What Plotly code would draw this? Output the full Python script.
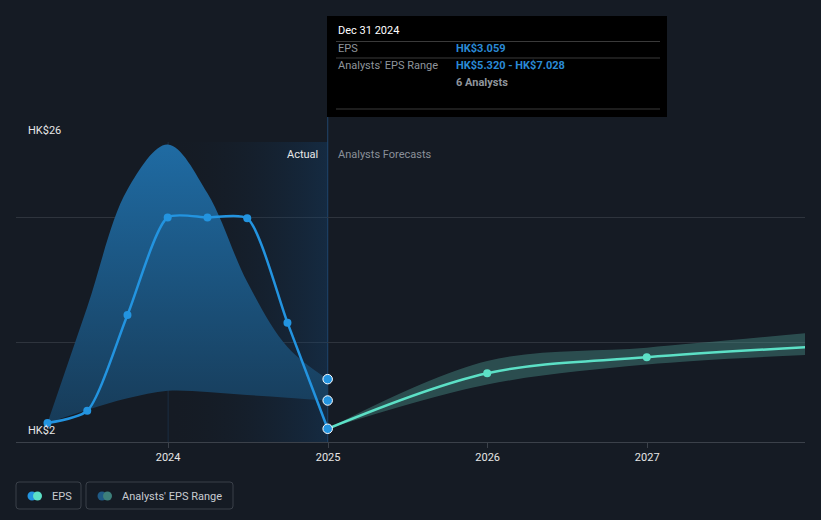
import plotly.graph_objects as go
import pandas as pd

# ---------------- data ----------------
actual_dates = ['2023-03-31', '2023-06-30', '2023-09-30', '2023-12-31',
                '2024-03-31', '2024-06-30', '2024-09-30', '2024-12-31']
eps_actual = [3.52, 4.5, 12.16, 19.97, 19.96, 19.9, 11.55, 3.059]
past_range_low = [3.52, 4.56, 5.5, 6.1, 6.0, 5.76, 5.55, 5.32]
past_range_high = [3.52, 12.8, 22.2, 25.8, 21.9, 14.8, 9.6, 7.028]

forecast_dates = ['2024-12-31', '2025-12-31', '2026-12-31', '2027-12-31']
eps_forecast = [3.059, 7.5, 8.78, 9.58]
fc_range_low = [3.059, 6.6, 8.2, 8.96]
fc_range_high = [3.059, 8.48, 9.55, 10.7]

tick_vals = ['2024-01-01', '2025-01-01', '2026-01-01', '2027-01-01']
tick_text = ['2024', '2025', '2026', '2027']
y_grid = [2, 10, 20, 26]
y_min, y_max = 2, 26
x_range = ['2023-01-18', '2027-12-28']

# ---------------- styling ----------------
BG = '#151b24'
BLUE = '#2394e0'
TEAL = '#5ce0c6'
FONT = 'Roboto'
W, H = 821, 520
ML, MR, MT, MB = 16, 16, 142, 78
PW, PH = W - ML - MR, H - MT - MB


def px(x):
    return (x - ML) / PW


def py(y):
    return (H - MB - y) / PH


fig = go.Figure()

# "Actual" region horizontal gradient shading
shade_start = tick_vals[0]
shade_end = actual_dates[-1]
fig.add_trace(go.Scatter(x=[shade_start, shade_end, shade_end, shade_start, shade_start],
                         y=[y_min, y_min, y_max, y_max, y_min], mode='lines',
                         line=dict(width=0), fill='toself',
                         fillgradient=dict(type='horizontal',
                                           colorscale=[[0, 'rgba(21,27,36,0)'],
                                                       [1, 'rgba(20,70,118,0.36)']]),
                         hoverinfo='skip', showlegend=False))

# past analysts' range band (blue, gradient)
fig.add_trace(go.Scatter(x=actual_dates, y=past_range_low, mode='lines',
                         line=dict(width=0, shape='spline', smoothing=1.0), hoverinfo='skip',
                         showlegend=False))
fig.add_trace(go.Scatter(x=actual_dates, y=past_range_high, mode='lines',
                         line=dict(width=0, shape='spline', smoothing=1.0), fill='tonexty',
                         fillgradient=dict(type='vertical',
                                           colorscale=[[0, '#173b58'], [1, '#1f6ba3']]),
                         hoverinfo='skip', showlegend=False))

# forecast analysts' range band (teal)
fig.add_trace(go.Scatter(x=forecast_dates, y=fc_range_low, mode='lines',
                         line=dict(width=0, shape='spline'), hoverinfo='skip',
                         showlegend=False))
fig.add_trace(go.Scatter(x=forecast_dates, y=fc_range_high, mode='lines',
                         line=dict(width=0, shape='spline'), fill='tonexty',
                         fillcolor='rgba(72,140,132,0.45)',
                         hoverinfo='skip', showlegend=False))

# EPS actual
fig.add_trace(go.Scatter(x=actual_dates, y=eps_actual,
                         mode='lines', line=dict(color=BLUE, width=2.5, shape='spline', smoothing=0.65),
                         showlegend=False))
fig.add_trace(go.Scatter(x=actual_dates[:-1], y=eps_actual[:-1], mode='markers',
                         marker=dict(color=BLUE, size=8), showlegend=False))

# EPS forecast
fig.add_trace(go.Scatter(x=forecast_dates, y=eps_forecast, mode='lines',
                         line=dict(color=TEAL, width=2.5, shape='spline'),
                         showlegend=False))
fig.add_trace(go.Scatter(x=forecast_dates[1:], y=eps_forecast[1:], mode='markers',
                         marker=dict(color=TEAL, size=8), showlegend=False))

# hover markers at Dec 31 2024
fig.add_trace(go.Scatter(x=[actual_dates[-1]] * 3,
                         y=[eps_actual[-1], past_range_low[-1], past_range_high[-1]],
                         mode='markers',
                         marker=dict(color=BLUE, size=9.5, line=dict(color='white', width=1)),
                         showlegend=False, cliponaxis=False))

shapes = []
shapes.append(dict(type='line', xref='x', yref='y', x0=shade_start, x1=shade_start, y0=y_min, y1=y_max,
                   line=dict(color='rgba(40,90,140,0.3)', width=1), layer='below'))
# vertical "now" line
shapes.append(dict(type='line', xref='x', yref='paper', x0=shade_end, x1=shade_end, y0=0, y1=py(117),
                   line=dict(color='#1f3f60', width=1.2), layer='below'))

# tooltip box
shapes.append(dict(type='rect', xref='paper', yref='paper', x0=px(327), x1=px(667),
                   y0=py(117), y1=py(16), fillcolor='#000000', line=dict(width=0)))
for yy in [41.5, 58, 109]:
    shapes.append(dict(type='line', xref='paper', yref='paper', x0=px(336), x1=px(660),
                       y0=py(yy), y1=py(yy), line=dict(color='#3a3a3a', width=1)))


def rounded_box(x0, y0, x1, y1, r=3):
    X0, X1 = px(x0), px(x1)
    Y0, Y1 = py(y1), py(y0)
    rx, ry = r / PW, r / PH
    return (f'M {X0 + rx},{Y0} L {X1 - rx},{Y0} Q {X1},{Y0} {X1},{Y0 + ry} '
            f'L {X1},{Y1 - ry} Q {X1},{Y1} {X1 - rx},{Y1} L {X0 + rx},{Y1} '
            f'Q {X0},{Y1} {X0},{Y1 - ry} L {X0},{Y0 + ry} Q {X0},{Y0} {X0 + rx},{Y0} Z')


# legend boxes
for (x0, x1) in [(16, 81), (86, 233)]:
    shapes.append(dict(type='path', xref='paper', yref='paper', path=rounded_box(x0, 482, x1, 509),
                       line=dict(color='#3a4049', width=1), fillcolor='rgba(0,0,0,0)'))


def circle(cx, cy, r, color):
    return dict(type='circle', xref='paper', yref='paper', x0=px(cx - r), x1=px(cx + r),
                y0=py(cy + r), y1=py(cy - r), fillcolor=color, line=dict(width=0))


shapes += [circle(32, 496, 4.5, BLUE), circle(37.5, 496, 4.5, TEAL),
           circle(102, 496, 4.5, '#1f5a85'), circle(107.5, 496, 4.5, '#3d7f7a')]

ann = []


def text(x, y, s, color, size=11, anchor='left', bold=False):
    ann.append(dict(xref='paper', yref='paper', x=px(x), y=py(y), text=(f'<b>{s}</b>' if bold else s),
                    showarrow=False, xanchor=anchor, yanchor='middle',
                    font=dict(family=FONT, size=size, color=color)))


text(26, 130, 'HK$26', '#e8e8e8')
text(26, 430, 'HK$2', '#e8e8e8')
text(320, 154, 'Actual', '#e8e8e8', anchor='right')
text(336, 154, 'Analysts Forecasts', '#8a9099')
text(336, 31, 'Dec 31 2024', '#ffffff')
text(336, 48, 'EPS', '#8f959c')
text(454, 48, 'HK$3.059', '#2a8ad6', bold=True)
text(336, 65, "Analysts' EPS Range", '#8f959c')
text(454, 65, 'HK$5.320 - HK$7.028', '#2a8ad6', bold=True)
text(454, 83, '6 Analysts', '#8f959c', bold=True)
text(50, 496, 'EPS', '#c8ccd2')
text(120, 496, "Analysts' EPS Range", '#c8ccd2')

fig.update_layout(
    width=W, height=H,
    margin=dict(l=ML, r=MR, t=MT, b=MB),
    paper_bgcolor=BG, plot_bgcolor=BG,
    showlegend=False,
    shapes=shapes, annotations=ann,
    font=dict(family=FONT, color='#e0e0e0', size=11),
    xaxis=dict(type='date', range=x_range, tickvals=tick_vals, ticktext=tick_text,
               showgrid=False, zeroline=False, showline=True, linecolor='#3b414a', linewidth=1,
               ticks='outside', ticklen=5, tickcolor='#3b414a',
               tickfont=dict(family=FONT, size=11, color='#e6e6e6')),
    yaxis=dict(range=[y_min, y_max], tickvals=y_grid, showticklabels=False,
               gridcolor='#2e343d', gridwidth=1, zeroline=False, showline=False),
    hovermode=False,
)

fig.write_html('out.html', config={'displayModeBar': False},
               post_script="document.body.style.margin='0';document.body.style.background='#151b24';")
